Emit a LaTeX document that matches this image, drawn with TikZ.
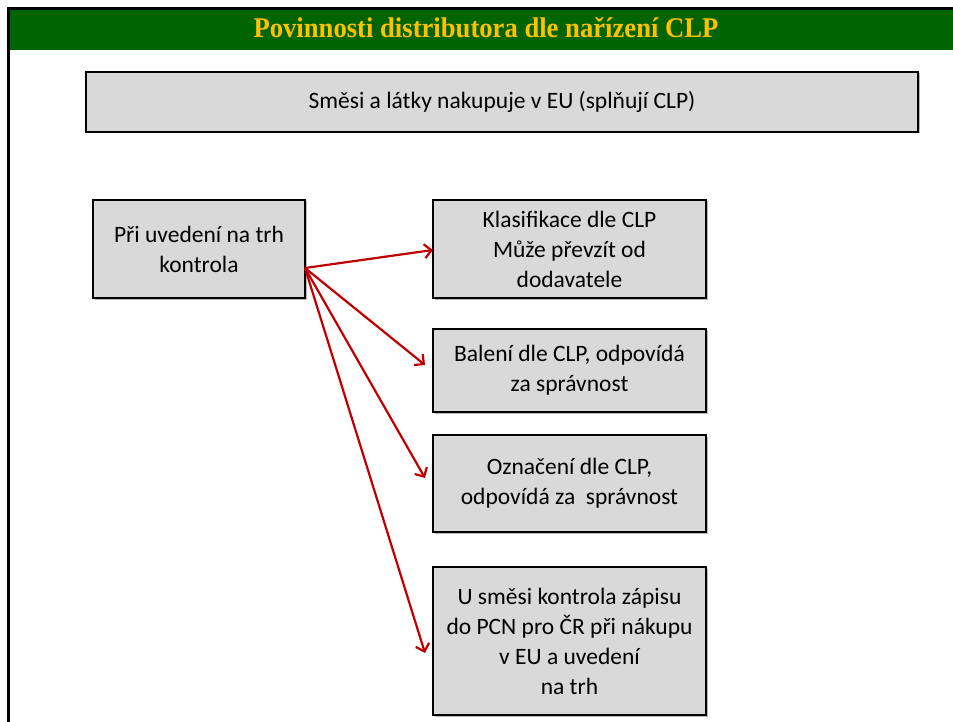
\documentclass[tikz,border=0pt]{standalone}
\usepackage{fontspec}
\setmainfont{Carlito}
\newfontfamily\titlefont{Liberation Serif}
\usetikzlibrary{arrows.meta,shadows}
\definecolor{boxgray}{HTML}{D9D9D9}
\definecolor{bargreen}{HTML}{006400}
\definecolor{titleyellow}{HTML}{FFC000}
\definecolor{arrowred}{HTML}{C00000}
\begin{document}
\begin{tikzpicture}[x=1pt,y=-1pt,
  infobox/.style={draw=black, line width=2pt, fill=boxgray, align=center,
    inner sep=0pt, font=\fontsize{23.5}{30}\selectfont,
    drop shadow={shadow xshift=1.5pt, shadow yshift=-1.5pt, opacity=0.45, fill=black!60}},
  link/.style={draw=arrowred, line width=2.2pt, -{Straight Barb[length=7pt,width=14pt,line width=2.2pt]}}
]
\useasboundingbox (0,0) rectangle (953,722);
\fill[white] (0,0) rectangle (953,722);
\fill[bargreen] (10,10) rectangle (953,50);
\draw[line width=3pt] (8.5,722) -- (8.5,8.5) -- (953,8.5);
\node[font=\titlefont\bfseries\fontsize{28.5}{32}\selectfont, text=titleyellow, xscale=0.935, anchor=base, inner sep=0pt] (title) at (486,38) {Povinnosti distributora dle nařízení CLP};

\node[infobox, minimum width=832pt, minimum height=60pt] (top) at (502,102) {Směsi a látky nakupuje v EU (splňují CLP)};
\node[infobox, minimum width=212pt, minimum height=98pt] (left) at (199,249) {Při uvedení na trh\\kontrola};
\node[infobox, minimum width=273pt, minimum height=98pt] (b1) at (569.5,249) {Klasifikace dle CLP\\Může převzít od\\dodavatele};
\node[infobox, minimum width=273pt, minimum height=83pt] (b2) at (569.5,370.5) {Balení dle CLP, odpovídá\\za správnost};
\node[infobox, minimum width=273pt, minimum height=97pt] (b3) at (569.5,483.5) {Označení dle CLP,\\odpovídá za~ správnost};
\node[infobox, minimum width=273pt, minimum height=148pt] (b4) at (569.5,641) {U směsi kontrola zápisu\\do PCN pro ČR při nákupu\\v EU a uvedení\\na trh};

\coordinate (start) at (305,268);
\coordinate (e1) at (433,250);
\coordinate (e2) at (425,365);
\coordinate (e3) at (425,478);
\coordinate (e4) at (425,653);
\draw[link] (start) -- (e1);
\draw[link] (start) -- (e2);
\draw[link] (start) -- (e3);
\draw[link] (start) -- (e4);
\end{tikzpicture}
\end{document}
